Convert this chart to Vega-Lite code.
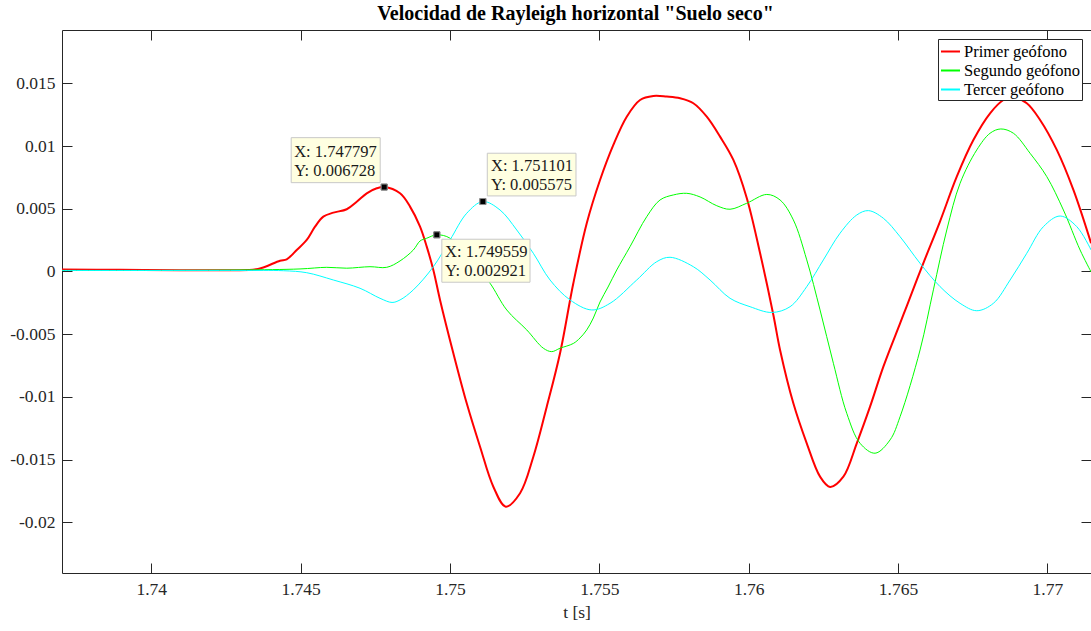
{
  "$schema": "https://vega.github.io/schema/vega-lite/v6.json",
  "width": 1029,
  "height": 543,
  "autosize": {"type": "none"},
  "padding": {"left": 62, "top": 30, "right": 0, "bottom": 58},
  "background": "white",
  "config": {
    "view": {"stroke": null},
    "font": "Liberation Serif",
    "axis": {
      "grid": false,
      "labelFont": "Liberation Serif",
      "labelFontSize": 17.5,
      "labelColor": "#262626",
      "domainColor": "#262626",
      "domainWidth": 1,
      "tickColor": "#262626",
      "tickWidth": 1,
      "titleFont": "Liberation Serif",
      "titleFontSize": 17.5,
      "titleFontWeight": "normal",
      "titleColor": "#262626"
    }
  },
  "title": {
    "text": "Velocidad de Rayleigh horizontal \"Suelo seco\"",
    "font": "Liberation Serif",
    "fontSize": 20,
    "fontWeight": "bold",
    "color": "black",
    "anchor": "middle",
    "frame": "group",
    "baseline": "alphabetic",
    "offset": 9,
    "dy": 19,
    "dx": -1
  },
  "datasets": {
    "series": [
      {"sensor": "Primer geófono", "t": 1.73701, "v": 0.00015},
      {"sensor": "Primer geófono", "t": 1.738952, "v": 0.00014},
      {"sensor": "Primer geófono", "t": 1.740961, "v": 0.0001},
      {"sensor": "Primer geófono", "t": 1.742635, "v": 0.0001},
      {"sensor": "Primer geófono", "t": 1.743573, "v": 0.0002},
      {"sensor": "Primer geófono", "t": 1.744309, "v": 0.00086},
      {"sensor": "Primer geófono", "t": 1.744533, "v": 0.00097},
      {"sensor": "Primer geófono", "t": 1.744868, "v": 0.00171},
      {"sensor": "Primer geófono", "t": 1.745203, "v": 0.00251},
      {"sensor": "Primer geófono", "t": 1.745481, "v": 0.00357},
      {"sensor": "Primer geófono", "t": 1.745759, "v": 0.00437},
      {"sensor": "Primer geófono", "t": 1.746094, "v": 0.00469},
      {"sensor": "Primer geófono", "t": 1.746542, "v": 0.00496},
      {"sensor": "Primer geófono", "t": 1.746877, "v": 0.00556},
      {"sensor": "Primer geófono", "t": 1.747212, "v": 0.00623},
      {"sensor": "Primer geófono", "t": 1.747547, "v": 0.00663},
      {"sensor": "Primer geófono", "t": 1.747797, "v": 0.006728},
      {"sensor": "Primer geófono", "t": 1.748327, "v": 0.00623},
      {"sensor": "Primer geófono", "t": 1.748662, "v": 0.00517},
      {"sensor": "Primer geófono", "t": 1.748997, "v": 0.00357},
      {"sensor": "Primer geófono", "t": 1.749221, "v": 0.00198},
      {"sensor": "Primer geófono", "t": 1.749442, "v": 0.00012},
      {"sensor": "Primer geófono", "t": 1.749666, "v": -0.00227},
      {"sensor": "Primer geófono", "t": 1.750112, "v": -0.00652},
      {"sensor": "Primer geófono", "t": 1.75056, "v": -0.01051},
      {"sensor": "Primer geófono", "t": 1.751006, "v": -0.01397},
      {"sensor": "Primer geófono", "t": 1.751451, "v": -0.01716},
      {"sensor": "Primer geófono", "t": 1.751866, "v": -0.01875},
      {"sensor": "Primer geófono", "t": 1.752345, "v": -0.01768},
      {"sensor": "Primer geófono", "t": 1.75279, "v": -0.01477},
      {"sensor": "Primer geófono", "t": 1.753239, "v": -0.01078},
      {"sensor": "Primer geófono", "t": 1.753684, "v": -0.00652},
      {"sensor": "Primer geófono", "t": 1.754129, "v": -0.00094},
      {"sensor": "Primer geófono", "t": 1.754578, "v": 0.00384},
      {"sensor": "Primer geófono", "t": 1.755023, "v": 0.00729},
      {"sensor": "Primer geófono", "t": 1.755469, "v": 0.01009},
      {"sensor": "Primer geófono", "t": 1.755917, "v": 0.01234},
      {"sensor": "Primer geófono", "t": 1.756363, "v": 0.01367},
      {"sensor": "Primer geófono", "t": 1.756808, "v": 0.01399},
      {"sensor": "Primer geófono", "t": 1.757257, "v": 0.01394},
      {"sensor": "Primer geófono", "t": 1.757702, "v": 0.01381},
      {"sensor": "Primer geófono", "t": 1.758147, "v": 0.01341},
      {"sensor": "Primer geófono", "t": 1.758596, "v": 0.01234},
      {"sensor": "Primer geófono", "t": 1.759041, "v": 0.01075},
      {"sensor": "Primer geófono", "t": 1.759487, "v": 0.00889},
      {"sensor": "Primer geófono", "t": 1.759935, "v": 0.00586},
      {"sensor": "Primer geófono", "t": 1.76038, "v": 0.00147},
      {"sensor": "Primer geófono", "t": 1.760826, "v": -0.00347},
      {"sensor": "Primer geófono", "t": 1.76105, "v": -0.00626},
      {"sensor": "Primer geófono", "t": 1.761495, "v": -0.01051},
      {"sensor": "Primer geófono", "t": 1.761944, "v": -0.0137},
      {"sensor": "Primer geófono", "t": 1.762389, "v": -0.01636},
      {"sensor": "Primer geófono", "t": 1.762724, "v": -0.01718},
      {"sensor": "Primer geófono", "t": 1.76317, "v": -0.01636},
      {"sensor": "Primer geófono", "t": 1.763618, "v": -0.0137},
      {"sensor": "Primer geófono", "t": 1.764063, "v": -0.01078},
      {"sensor": "Primer geófono", "t": 1.764509, "v": -0.00759},
      {"sensor": "Primer geófono", "t": 1.765068, "v": -0.00414},
      {"sensor": "Primer geófono", "t": 1.765292, "v": -0.00276},
      {"sensor": "Primer geófono", "t": 1.765848, "v": 0.00067},
      {"sensor": "Primer geófono", "t": 1.766407, "v": 0.004},
      {"sensor": "Primer geófono", "t": 1.766966, "v": 0.00756},
      {"sensor": "Primer geófono", "t": 1.767522, "v": 0.01048},
      {"sensor": "Primer geófono", "t": 1.768081, "v": 0.01261},
      {"sensor": "Primer geófono", "t": 1.768527, "v": 0.01367},
      {"sensor": "Primer geófono", "t": 1.768862, "v": 0.01389},
      {"sensor": "Primer geófono", "t": 1.76931, "v": 0.01341},
      {"sensor": "Primer geófono", "t": 1.769756, "v": 0.01208},
      {"sensor": "Primer geófono", "t": 1.770315, "v": 0.00969},
      {"sensor": "Primer geófono", "t": 1.770871, "v": 0.0065},
      {"sensor": "Primer geófono", "t": 1.771463, "v": 0.00225},

      {"sensor": "Segundo geófono", "t": 1.73701, "v": 0.00008},
      {"sensor": "Segundo geófono", "t": 1.739956, "v": 0.00008},
      {"sensor": "Segundo geófono", "t": 1.74297, "v": 0.00012},
      {"sensor": "Segundo geófono", "t": 1.744979, "v": 0.0002},
      {"sensor": "Segundo geófono", "t": 1.745873, "v": 0.00033},
      {"sensor": "Segundo geófono", "t": 1.746542, "v": 0.00026},
      {"sensor": "Segundo geófono", "t": 1.747322, "v": 0.00038},
      {"sensor": "Segundo geófono", "t": 1.747882, "v": 0.00033},
      {"sensor": "Segundo geófono", "t": 1.748327, "v": 0.00084},
      {"sensor": "Segundo geófono", "t": 1.748772, "v": 0.00171},
      {"sensor": "Segundo geófono", "t": 1.748997, "v": 0.00243},
      {"sensor": "Segundo geófono", "t": 1.749221, "v": 0.00265},
      {"sensor": "Segundo geófono", "t": 1.749559, "v": 0.002921},
      {"sensor": "Segundo geófono", "t": 1.750001, "v": 0.00265},
      {"sensor": "Segundo geófono", "t": 1.75056, "v": 0.00108},
      {"sensor": "Segundo geófono", "t": 1.751006, "v": -0.00004},
      {"sensor": "Segundo geófono", "t": 1.75134, "v": -0.00094},
      {"sensor": "Segundo geófono", "t": 1.7519, "v": -0.00307},
      {"sensor": "Segundo geófono", "t": 1.752569, "v": -0.00466},
      {"sensor": "Segundo geófono", "t": 1.753125, "v": -0.00612},
      {"sensor": "Segundo geófono", "t": 1.753406, "v": -0.00639},
      {"sensor": "Segundo geófono", "t": 1.753684, "v": -0.00612},
      {"sensor": "Segundo geófono", "t": 1.754129, "v": -0.00574},
      {"sensor": "Segundo geófono", "t": 1.754354, "v": -0.0053},
      {"sensor": "Segundo geófono", "t": 1.754578, "v": -0.00466},
      {"sensor": "Segundo geófono", "t": 1.754799, "v": -0.00371},
      {"sensor": "Segundo geófono", "t": 1.755023, "v": -0.00243},
      {"sensor": "Segundo geófono", "t": 1.755291, "v": -0.00124},
      {"sensor": "Segundo geófono", "t": 1.755583, "v": 0.00012},
      {"sensor": "Segundo geófono", "t": 1.756028, "v": 0.00198},
      {"sensor": "Segundo geófono", "t": 1.756587, "v": 0.00437},
      {"sensor": "Segundo geófono", "t": 1.757032, "v": 0.0057},
      {"sensor": "Segundo geófono", "t": 1.757478, "v": 0.0061},
      {"sensor": "Segundo geófono", "t": 1.757926, "v": 0.00623},
      {"sensor": "Segundo geófono", "t": 1.758372, "v": 0.00594},
      {"sensor": "Segundo geófono", "t": 1.758931, "v": 0.00524},
      {"sensor": "Segundo geófono", "t": 1.759376, "v": 0.00496},
      {"sensor": "Segundo geófono", "t": 1.759935, "v": 0.00544},
      {"sensor": "Segundo geófono", "t": 1.760605, "v": 0.00614},
      {"sensor": "Segundo geófono", "t": 1.76105, "v": 0.0057},
      {"sensor": "Segundo geófono", "t": 1.761495, "v": 0.00411},
      {"sensor": "Segundo geófono", "t": 1.761944, "v": 0.00092},
      {"sensor": "Segundo geófono", "t": 1.762389, "v": -0.00307},
      {"sensor": "Segundo geófono", "t": 1.762835, "v": -0.00732},
      {"sensor": "Segundo geófono", "t": 1.763283, "v": -0.01131},
      {"sensor": "Segundo geófono", "t": 1.763729, "v": -0.0137},
      {"sensor": "Segundo geófono", "t": 1.764231, "v": -0.01449},
      {"sensor": "Segundo geófono", "t": 1.764733, "v": -0.01343},
      {"sensor": "Segundo geófono", "t": 1.765068, "v": -0.01158},
      {"sensor": "Segundo geófono", "t": 1.765737, "v": -0.00626},
      {"sensor": "Segundo geófono", "t": 1.766183, "v": -0.00147},
      {"sensor": "Segundo geófono", "t": 1.766632, "v": 0.00331},
      {"sensor": "Segundo geófono", "t": 1.767077, "v": 0.00703},
      {"sensor": "Segundo geófono", "t": 1.767636, "v": 0.00969},
      {"sensor": "Segundo geófono", "t": 1.768081, "v": 0.01102},
      {"sensor": "Segundo geófono", "t": 1.76844, "v": 0.01136},
      {"sensor": "Segundo geófono", "t": 1.768862, "v": 0.01102},
      {"sensor": "Segundo geófono", "t": 1.769421, "v": 0.00942},
      {"sensor": "Segundo geófono", "t": 1.76998, "v": 0.00756},
      {"sensor": "Segundo geófono", "t": 1.770536, "v": 0.0049},
      {"sensor": "Segundo geófono", "t": 1.771095, "v": 0.00171},
      {"sensor": "Segundo geófono", "t": 1.771463, "v": -0.00004},

      {"sensor": "Tercer geófono", "t": 1.73701, "v": 0.00008},
      {"sensor": "Tercer geófono", "t": 1.739956, "v": 0.00008},
      {"sensor": "Tercer geófono", "t": 1.74297, "v": 0.00008},
      {"sensor": "Tercer geófono", "t": 1.74442, "v": 0.00006},
      {"sensor": "Tercer geófono", "t": 1.745203, "v": -0.0001},
      {"sensor": "Tercer geófono", "t": 1.746094, "v": -0.00068},
      {"sensor": "Tercer geófono", "t": 1.746988, "v": -0.00134},
      {"sensor": "Tercer geófono", "t": 1.747657, "v": -0.00214},
      {"sensor": "Tercer geófono", "t": 1.748059, "v": -0.00247},
      {"sensor": "Tercer geófono", "t": 1.748327, "v": -0.00227},
      {"sensor": "Tercer geófono", "t": 1.748772, "v": -0.00147},
      {"sensor": "Tercer geófono", "t": 1.749442, "v": 0.00038},
      {"sensor": "Tercer geófono", "t": 1.750001, "v": 0.00251},
      {"sensor": "Tercer geófono", "t": 1.75056, "v": 0.00464},
      {"sensor": "Tercer geófono", "t": 1.751101, "v": 0.005575},
      {"sensor": "Tercer geófono", "t": 1.751675, "v": 0.0049},
      {"sensor": "Tercer geófono", "t": 1.752234, "v": 0.00331},
      {"sensor": "Tercer geófono", "t": 1.75279, "v": 0.00145},
      {"sensor": "Tercer geófono", "t": 1.753349, "v": -0.00068},
      {"sensor": "Tercer geófono", "t": 1.754019, "v": -0.00227},
      {"sensor": "Tercer geófono", "t": 1.754745, "v": -0.00307},
      {"sensor": "Tercer geófono", "t": 1.755358, "v": -0.00254},
      {"sensor": "Tercer geófono", "t": 1.756252, "v": -0.00068},
      {"sensor": "Tercer geófono", "t": 1.756922, "v": 0.00078},
      {"sensor": "Tercer geófono", "t": 1.757367, "v": 0.00113},
      {"sensor": "Tercer geófono", "t": 1.758147, "v": 0.00038},
      {"sensor": "Tercer geófono", "t": 1.758706, "v": -0.00068},
      {"sensor": "Tercer geófono", "t": 1.759376, "v": -0.00214},
      {"sensor": "Tercer geófono", "t": 1.760046, "v": -0.00281},
      {"sensor": "Tercer geófono", "t": 1.760772, "v": -0.00327},
      {"sensor": "Tercer geófono", "t": 1.761385, "v": -0.00281},
      {"sensor": "Tercer geófono", "t": 1.761944, "v": -0.00121},
      {"sensor": "Tercer geófono", "t": 1.7625, "v": 0.00092},
      {"sensor": "Tercer geófono", "t": 1.763059, "v": 0.00305},
      {"sensor": "Tercer geófono", "t": 1.763618, "v": 0.0045},
      {"sensor": "Tercer geófono", "t": 1.764007, "v": 0.00485},
      {"sensor": "Tercer geófono", "t": 1.764509, "v": 0.00424},
      {"sensor": "Tercer geófono", "t": 1.765068, "v": 0.00277},
      {"sensor": "Tercer geófono", "t": 1.765737, "v": 0.00065},
      {"sensor": "Tercer geófono", "t": 1.766407, "v": -0.00121},
      {"sensor": "Tercer geófono", "t": 1.767077, "v": -0.00254},
      {"sensor": "Tercer geófono", "t": 1.767636, "v": -0.00313},
      {"sensor": "Tercer geófono", "t": 1.768192, "v": -0.00254},
      {"sensor": "Tercer geófono", "t": 1.768752, "v": -0.00068},
      {"sensor": "Tercer geófono", "t": 1.76931, "v": 0.00145},
      {"sensor": "Tercer geófono", "t": 1.769866, "v": 0.00357},
      {"sensor": "Tercer geófono", "t": 1.770426, "v": 0.00442},
      {"sensor": "Tercer geófono", "t": 1.770985, "v": 0.00357},
      {"sensor": "Tercer geófono", "t": 1.771463, "v": 0.00171}
    ],
    "tips": [
      {"sensor": "Primer geófono", "t": 1.747797, "v": 0.006728, "lx": "X: 1.747797", "ly": "Y: 0.006728"},
      {"sensor": "Segundo geófono", "t": 1.749559, "v": 0.002921, "lx": "X: 1.749559", "ly": "Y: 0.002921"},
      {"sensor": "Tercer geófono", "t": 1.751101, "v": 0.005575, "lx": "X: 1.751101", "ly": "Y: 0.005575"}
    ]
  },
  "layer": [
    {
      "data": {"name": "series"},
      "mark": {"type": "line", "interpolate": "catmull-rom", "clip": true},
      "encoding": {
        "x": {
          "field": "t", "type": "quantitative",
          "scale": {"domain": [1.73701, 1.77146], "nice": false, "zero": false},
          "axis": {
            "orient": "bottom",
            "values": [1.74, 1.745, 1.75, 1.755, 1.76, 1.765, 1.77],
            "labelExpr": "format(datum.value, '~g')",
            "tickSize": -10,
            "labelPadding": 17,
            "title": "t [s]",
            "titlePadding": 6
          }
        },
        "y": {
          "field": "v", "type": "quantitative",
          "scale": {"domain": [-0.02404, 0.01925], "nice": false, "zero": false},
          "axis": {
            "orient": "left",
            "values": [-0.02, -0.015, -0.01, -0.005, 0, 0.005, 0.01, 0.015],
            "labelExpr": "datum.value < 0 ? '-' + format(-datum.value, '~g') : format(datum.value, '~g')",
            "tickSize": -10,
            "labelPadding": 17,
            "title": null
          }
        },
        "color": {
          "field": "sensor", "type": "nominal",
          "scale": {"domain": ["Primer geófono", "Segundo geófono", "Tercer geófono"], "range": ["#ff0000", "#00ff00", "#00ffff"]},
          "legend": {
            "title": null,
            "orient": "none",
            "legendX": 876,
            "legendY": 9,
            "symbolType": "stroke",
            "symbolSize": 361,
            "symbolStrokeWidth": 2,
            "labelFont": "Liberation Serif",
            "labelFontSize": 16.5,
            "labelColor": "black",
            "labelOffset": 3,
            "strokeColor": "#262626",
            "fillColor": "white",
            "padding": 2,
            "rowPadding": 0
          }
        },
        "strokeWidth": {"condition": {"test": "datum.sensor == 'Primer geófono'", "value": 2}, "value": 1}
      }
    },
    {
      "data": {"name": "tips"},
      "mark": {"type": "point", "shape": "square", "filled": true, "size": 36, "color": "black", "stroke": "#8c8c8c", "strokeWidth": 1, "opacity": 1},
      "encoding": {
        "x": {
          "field": "t", "type": "quantitative",
          "scale": {"domain": [1.73701, 1.77146], "nice": false, "zero": false},
          "axis": {
            "orient": "top",
            "values": [1.74, 1.745, 1.75, 1.755, 1.76, 1.765, 1.77],
            "labels": false,
            "tickSize": -10,
            "title": null
          }
        },
        "y": {
          "field": "v", "type": "quantitative",
          "scale": {"domain": [-0.02404, 0.01925], "nice": false, "zero": false},
          "axis": {
            "orient": "right",
            "values": [-0.02, -0.015, -0.01, -0.005, 0, 0.005, 0.01, 0.015],
            "labels": false,
            "domain": false,
            "tickSize": -10,
            "title": null
          }
        }
      }
    },
    {
      "data": {"name": "tips"},
      "transform": [{"filter": "datum.sensor == 'Primer geófono'"}],
      "mark": {"type": "rect", "fill": "#ffffe1", "stroke": "#c8c8c8", "strokeWidth": 1, "xOffset": -93, "x2Offset": -4, "yOffset": -49.4, "y2Offset": -4.4},
      "encoding": {
        "x": {"field": "t", "type": "quantitative", "axis": null},
        "x2": {"field": "t"},
        "y": {"field": "v", "type": "quantitative", "axis": null},
        "y2": {"field": "v"}
      }
    },
    {
      "data": {"name": "tips"},
      "transform": [{"filter": "datum.sensor == 'Segundo geófono'"}],
      "mark": {"type": "rect", "fill": "#ffffe1", "stroke": "#c8c8c8", "strokeWidth": 1, "xOffset": 5, "x2Offset": 93.2, "yOffset": 4.4, "y2Offset": 47.4},
      "encoding": {
        "x": {"field": "t", "type": "quantitative", "axis": null},
        "x2": {"field": "t"},
        "y": {"field": "v", "type": "quantitative", "axis": null},
        "y2": {"field": "v"}
      }
    },
    {
      "data": {"name": "tips"},
      "transform": [{"filter": "datum.sensor == 'Tercer geófono'"}],
      "mark": {"type": "rect", "fill": "#ffffe1", "stroke": "#c8c8c8", "strokeWidth": 1, "xOffset": 4.4, "x2Offset": 93.1, "yOffset": -48.3, "y2Offset": -5.6},
      "encoding": {
        "x": {"field": "t", "type": "quantitative", "axis": null},
        "x2": {"field": "t"},
        "y": {"field": "v", "type": "quantitative", "axis": null},
        "y2": {"field": "v"}
      }
    },
    {
      "data": {"name": "tips"},
      "mark": {"type": "point", "shape": "square", "filled": true, "size": 36, "color": "black", "stroke": "#8c8c8c", "strokeWidth": 1, "opacity": 1},
      "encoding": {
        "x": {"field": "t", "type": "quantitative", "axis": null},
        "y": {"field": "v", "type": "quantitative", "axis": null}
      }
    },
    {
      "data": {"name": "tips"},
      "transform": [{"filter": "datum.sensor == 'Primer geófono'"}],
      "mark": {"type": "text", "align": "left", "baseline": "alphabetic", "dx": -90, "dy": -30.4, "font": "Liberation Serif", "fontSize": 16.5, "color": "#1a1a1a"},
      "encoding": {
        "x": {"field": "t", "type": "quantitative", "axis": null},
        "y": {"field": "v", "type": "quantitative", "axis": null},
        "text": {"field": "lx"}
      }
    },
    {
      "data": {"name": "tips"},
      "transform": [{"filter": "datum.sensor == 'Primer geófono'"}],
      "mark": {"type": "text", "align": "left", "baseline": "alphabetic", "dx": -90, "dy": -11.4, "font": "Liberation Serif", "fontSize": 16.5, "color": "#1a1a1a"},
      "encoding": {
        "x": {"field": "t", "type": "quantitative", "axis": null},
        "y": {"field": "v", "type": "quantitative", "axis": null},
        "text": {"field": "ly"}
      }
    },
    {
      "data": {"name": "tips"},
      "transform": [{"filter": "datum.sensor == 'Segundo geófono'"}],
      "mark": {"type": "text", "align": "left", "baseline": "alphabetic", "dx": 8.2, "dy": 22.4, "font": "Liberation Serif", "fontSize": 16.5, "color": "#1a1a1a"},
      "encoding": {
        "x": {"field": "t", "type": "quantitative", "axis": null},
        "y": {"field": "v", "type": "quantitative", "axis": null},
        "text": {"field": "lx"}
      }
    },
    {
      "data": {"name": "tips"},
      "transform": [{"filter": "datum.sensor == 'Segundo geófono'"}],
      "mark": {"type": "text", "align": "left", "baseline": "alphabetic", "dx": 8.2, "dy": 41.1, "font": "Liberation Serif", "fontSize": 16.5, "color": "#1a1a1a"},
      "encoding": {
        "x": {"field": "t", "type": "quantitative", "axis": null},
        "y": {"field": "v", "type": "quantitative", "axis": null},
        "text": {"field": "ly"}
      }
    },
    {
      "data": {"name": "tips"},
      "transform": [{"filter": "datum.sensor == 'Tercer geófono'"}],
      "mark": {"type": "text", "align": "left", "baseline": "alphabetic", "dx": 8.1, "dy": -30.9, "font": "Liberation Serif", "fontSize": 16.5, "color": "#1a1a1a"},
      "encoding": {
        "x": {"field": "t", "type": "quantitative", "axis": null},
        "y": {"field": "v", "type": "quantitative", "axis": null},
        "text": {"field": "lx"}
      }
    },
    {
      "data": {"name": "tips"},
      "transform": [{"filter": "datum.sensor == 'Tercer geófono'"}],
      "mark": {"type": "text", "align": "left", "baseline": "alphabetic", "dx": 8.1, "dy": -11.6, "font": "Liberation Serif", "fontSize": 16.5, "color": "#1a1a1a"},
      "encoding": {
        "x": {"field": "t", "type": "quantitative", "axis": null},
        "y": {"field": "v", "type": "quantitative", "axis": null},
        "text": {"field": "ly"}
      }
    }
  ],
  "resolve": {"axis": {"x": "independent", "y": "independent"}}
}
